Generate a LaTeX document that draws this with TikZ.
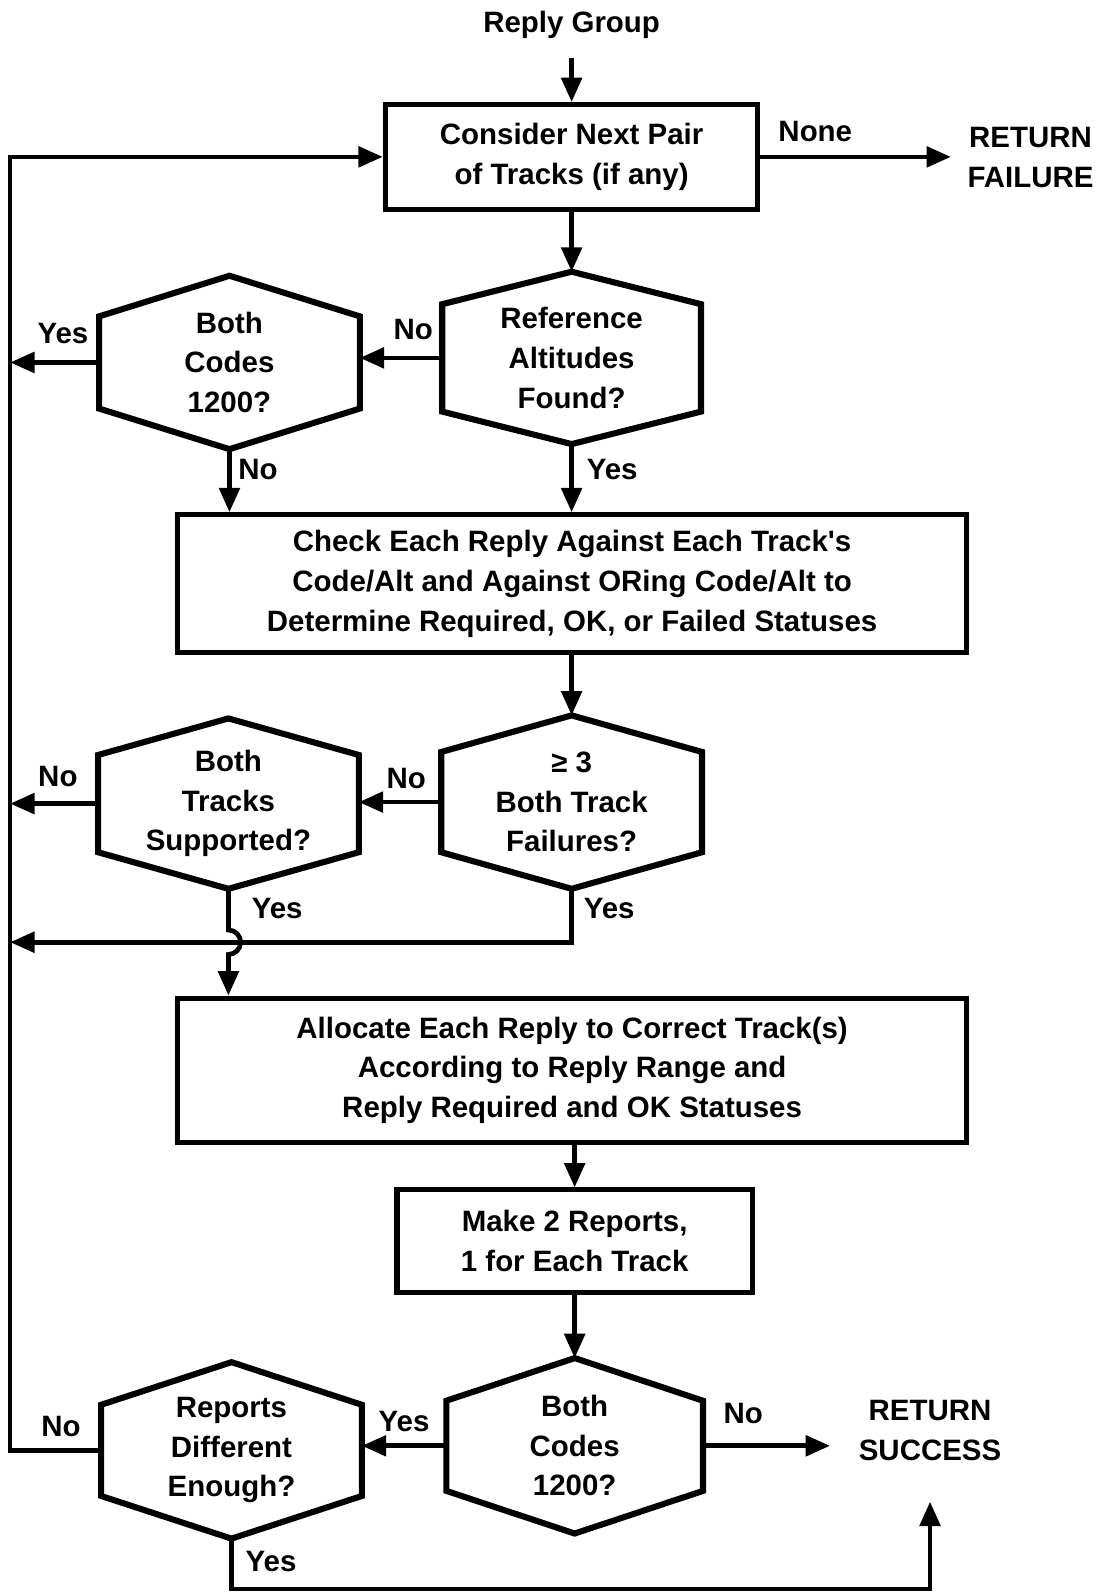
\documentclass[tikz,border=0pt]{standalone}
\usepackage{fontspec}
\setmainfont{Liberation Sans}
\usetikzlibrary{arrows.meta,calc}

\tikzset{
  base/.style={font=\fontsize{14.5}{19.5}\selectfont\bfseries, align=center},
  procbox/.style={base, draw, line width=2.5pt, rectangle, inner sep=0pt},
  hexcore/.style={base, rectangle, inner sep=0pt},
  hexline/.style={line width=3pt, line join=miter},
  conn/.style={line width=2.3pt},
  arr/.style={conn, -{Triangle[length=12pt,width=10pt]}},
  lab/.style={base},
  term/.style={base, inner xsep=8pt},
}

% hexagonal decision: name, centre x, top y, bottom y, half width, shoulder drop, text
\newcommand\hexbox[7]{%
  \node[hexcore, minimum width=#5pt, minimum height={(#4-#3)*0.5pt}]
    (#1) at (#2,{(#3+#4)/2}) {#7};
  \draw[hexline] (#1.north) -- ($(#1.north east)+(0,#6)$)
    -- ($(#1.south east)+(0,-#6)$) -- (#1.south)
    -- ($(#1.south west)+(0,-#6)$) -- ($(#1.north west)+(0,#6)$) -- cycle;
}

\begin{document}
\begin{tikzpicture}[x=0.5pt,y=-0.5pt]
\useasboundingbox (0,0) rectangle (1085,1568);

% guide coordinates for the return loop and shared rails
\coordinate (L) at (10,0);
\coordinate (cross) at (0,928);
\coordinate (B) at (0,1565);

% nodes
\node[base] (rg) at (563,25) {Reply Group};
\node[procbox, minimum width=183.5pt, minimum height=51.5pt] (cons) at (563,154.5)
  {Consider Next Pair\\of Tracks (if any)};
\node[term] (retf) at (1015,155) {RETURN\\FAILURE};

\hexbox{ref}{563}{268}{437}{127}{32}{Reference\\Altitudes\\Found?}
\hexbox{bc1}{226}{272}{442}{128}{40}{Both\\Codes\\1200?}

\node[procbox, minimum width=388.5pt, minimum height=68pt] (chk) at (563.5,575)
  {Check Each Reply Against Each Track\textquotesingle s\\Code/Alt and Against ORing Code/Alt to\\Determine Required, OK, or Failed Statuses};

\hexbox{fail}{563}{705}{875}{128}{36}{≥ 3\\Both Track\\Failures?}
\hexbox{sup}{225}{708}{875}{128}{36}{Both\\Tracks\\Supported?}

\node[procbox, minimum width=388.5pt, minimum height=71pt] (ana) at (563.5,1054)
  {Allocate Each Reply to Correct Track(s)\\According to Reply Range and\\Reply Required and OK Statuses};
\node[procbox, minimum width=175pt, minimum height=50.5pt] (rep4) at (566,1222.5)
  {Make 2 Reports,\\1 for Each Track};

\hexbox{bc2}{566}{1338}{1510}{126}{42}{Both\\Codes\\1200?}
\hexbox{rdiff}{228}{1342}{1515}{128}{42}{Reports\\Different\\Enough?}

\node[term, inner xsep=14pt, inner ysep=20pt] (succ) at (916,1409) {RETURN\\SUCCESS};

% connectors
\draw[arr] ([yshift=-6pt]rg.south) -- (cons.north);
\draw[arr] (cons.east) -- (cons.east -| retf.west);
\draw[arr] (cons.south) -- (ref.north);
\draw[arr] (ref.west) -- (ref.west -| bc1.east);
\draw[arr] (bc1.west) -- (bc1.west -| L);
\draw[arr] (bc1.south) -- (bc1.south |- chk.north);
\draw[arr] (ref.south) -- (ref.south |- chk.north);
\draw[arr] (chk.south -| fail.north) -- (fail.north);
\draw[arr] (fail.west) -- (fail.west -| sup.east);
\draw[arr] (sup.west) -- (sup.west -| L);
\draw[arr] (fail.south) |- (L |- cross);
\draw[arr] (sup.south) -- ($(sup.south |- cross)+(0,-12)$)
  arc[start angle=90, end angle=-90, radius=6pt] -- (sup.south |- ana.north);
\draw[arr] (ana.south -| rep4.north) -- (rep4.north);
\draw[arr] (rep4.south) -- (bc2.north);
\draw[arr] (bc2.east) -- (bc2.east -| succ.west);
\draw[arr] (bc2.west) -- (bc2.west -| rdiff.east);
\draw[arr] (rdiff.west) -| (L |- cons.west) -- (cons.west);
\draw[arr] (rdiff.south) -- (rdiff.south |- B) -| (succ.south);

% branch labels
\node[lab] (lnone) at (803,130) {None};
\node[lab] (lrefno) at (407,325) {No};
\node[lab] (lbc1yes) at (62,328) {Yes};
\node[lab] (lbc1no) at (254,462) {No};
\node[lab] (lrefyes) at (603,462) {Yes};
\node[lab] (lfailno) at (400,767) {No};
\node[lab] (lsupno) at (57,765) {No};
\node[lab] (lsupyes) at (273,895) {Yes};
\node[lab] (lfailyes) at (600,895) {Yes};
\node[lab] (lbc2no) at (732,1392) {No};
\node[lab] (lbc2yes) at (398,1400) {Yes};
\node[lab] (lrdno) at (60,1405) {No};
\node[lab] (lrdyes) at (267,1538) {Yes};
\end{tikzpicture}
\end{document}
